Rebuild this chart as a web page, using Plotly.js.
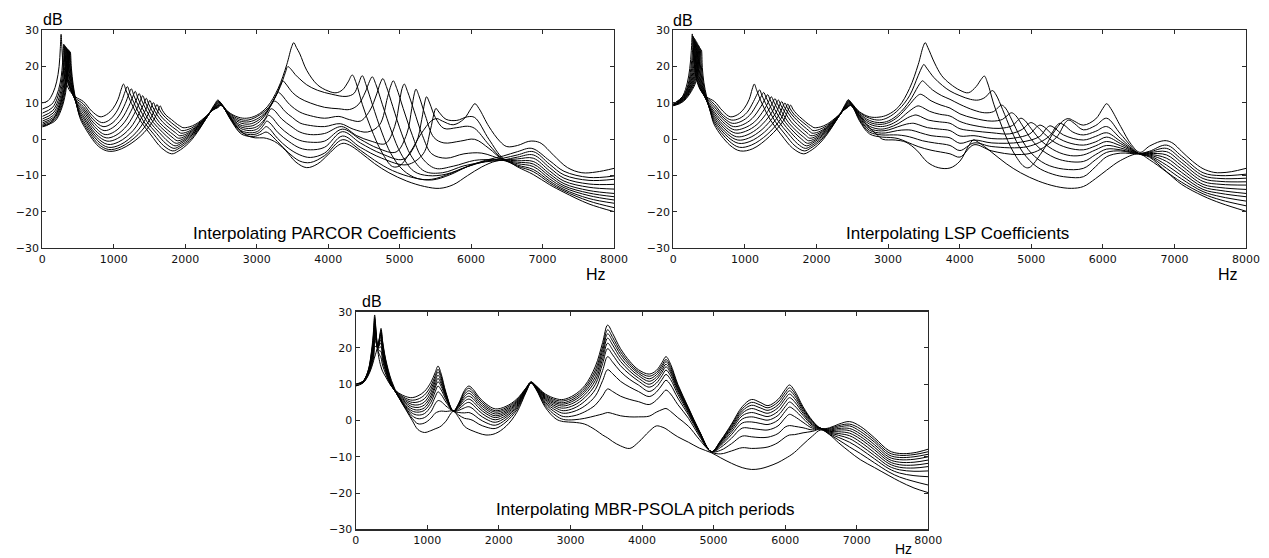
<!DOCTYPE html>
<html><head><meta charset="utf-8">
<script src="https://cdn.plot.ly/plotly-3.0.1.min.js"></script>
<style>html,body{margin:0;padding:0;background:#fff}#chart{width:1269px;height:558px}</style>
</head><body><div id="chart"></div>
<script>
// ---- axis ticks / labels ----
const xTickVals = [0,1000,2000,3000,4000,5000,6000,7000,8000];
const yTickVals = [-30,-20,-10,0,10,20,30];
const yTickText = ['\u221230','\u221220','\u221210','0','10','20','30'];
const panelTitles = ['Interpolating PARCOR Coefficients','Interpolating LSP Coefficients','Interpolating MBR-PSOLA pitch periods'];
const yUnit = 'dB';
const xUnit = 'Hz';

// ---- panel 1: PARCOR interpolation, 11 spectra, [Hz, dB] ----
const parcorCurves = [
[[0,10],[80,10.6],[150,12.8],[200,15.8],[235,20],[252,25],[263,28.9],[275,25],[295,19.8],[330,15.8],[390,13.2],[470,11.6],[575,10.4],[690,7.8],[808,6.2],[900,6.8],[990,8.5],[1060,11],[1105,13.8],[1135,15.2],[1175,13.3],[1250,9.8],[1370,5.2],[1520,1.2],[1670,-2.4],[1810,-4.0],[1900,-3.3],[2050,-1],[2200,2.8],[2330,7.0],[2420,9.9],[2455,10.8],[2500,10],[2600,7.6],[2740,6.1],[2860,5.8],[3000,6.6],[3150,9],[3300,14],[3420,20.5],[3490,25.5],[3519,26.6],[3555,25.3],[3604,23.5],[3700,19],[3850,15],[4000,13.3],[4110,12.8],[4200,13.6],[4280,15.8],[4337,17.7],[4390,15.6],[4480,9.5],[4600,3],[4750,-3.5],[4900,-7.5],[5000,-7.3],[5150,-3.5],[5300,1.5],[5440,5],[5520,5.7],[5600,5],[5750,4],[5900,5.6],[6000,8.5],[6053,9.8],[6110,8.5],[6250,3.5],[6400,-0.5],[6500,-2.0],[6650,-1.7],[6800,-0.6],[6880,-0.5],[6980,-1.1],[7150,-4.3],[7350,-7.8],[7550,-9.2],[7750,-9.0],[8000,-8.0]],
[[0,8.3],[130,9.6],[200,12],[250,15.5],[275,19],[290,23],[300,26.2],[315,21.5],[340,17],[390,13.8],[460,11.4],[575,9.7],[700,6.5],[830,4.6],[930,5.2],[1030,7.3],[1110,10.5],[1160,13.2],[1190,14.5],[1228,12.6],[1300,9.3],[1415,5],[1560,1.4],[1700,-1.8],[1826,-3.2],[1920,-2.4],[2060,-0.3],[2210,3.3],[2340,7.2],[2425,9.8],[2460,10.6],[2505,9.7],[2610,7.3],[2750,5.6],[2880,5.3],[3050,6.8],[3200,9.6],[3330,14.5],[3400,18.3],[3435,20.0],[3480,19.3],[3540,17.8],[3604,16.6],[3700,15],[3850,13.5],[4050,12.4],[4250,11.8],[4360,12.6],[4420,15],[4477,17.5],[4530,15],[4620,9.5],[4750,2],[4880,-4],[5050,-8.5],[5250,-10.8],[5450,-11],[5700,-9.5],[5950,-7.5],[6200,-5.8],[6450,-4.6],[6650,-3.4],[6850,-2.5],[7100,-5.9],[7300,-8.8],[7650,-10.5],[8000,-10.1]],
[[0,7.2],[140,8.7],[210,11.3],[262,15],[288,19],[303,23],[312,25.9],[327,21.3],[352,16.7],[400,13.4],[470,10.8],[575,9.0],[710,5.5],[850,3.5],[960,4.2],[1070,6.4],[1160,9.8],[1215,12.6],[1245,13.9],[1282,12],[1352,8.9],[1462,4.9],[1600,1.6],[1730,-1.2],[1842,-2.5],[1935,-1.7],[2070,0.3],[2220,3.7],[2345,7.3],[2430,9.7],[2465,10.5],[2510,9.6],[2615,7],[2755,5.1],[2890,4.8],[3030,5.9],[3170,8.5],[3280,12.5],[3340,15.3],[3365,16.1],[3410,15.2],[3500,12.9],[3604,11.3],[3750,10],[3950,8.8],[4150,8.4],[4300,8.2],[4420,9.5],[4520,13],[4580,16],[4617,17.2],[4670,15],[4760,9.5],[4890,2],[5020,-4],[5200,-8.8],[5400,-10],[5650,-9.6],[5950,-7.5],[6200,-6.1],[6450,-5.2],[6650,-4.3],[6870,-3.4],[7100,-6.9],[7300,-9.8],[7650,-11.3],[8000,-11.0]],
[[0,6.3],[145,7.9],[220,10.6],[272,14.5],[299,19],[315,23],[324,25.6],[339,21],[364,16.4],[410,13.1],[480,10.3],[575,8.4],[720,4.5],[865,2.4],[985,3.2],[1110,5.6],[1210,9.1],[1270,11.9],[1300,13.2],[1336,11.4],[1404,8.4],[1508,4.7],[1640,1.8],[1760,-0.6],[1858,-1.8],[1950,-1],[2080,0.9],[2230,4.1],[2350,7.4],[2435,9.6],[2470,10.3],[2515,9.4],[2620,6.7],[2760,4.6],[2900,4.2],[3020,5.2],[3140,7.5],[3240,11],[3285,12.6],[3300,13],[3350,12.2],[3460,9.6],[3604,7.5],[3750,6.5],[3950,5.8],[4150,6.3],[4300,5.4],[4450,5],[4580,7.8],[4680,12.5],[4730,15.5],[4765,16.7],[4815,14.5],[4905,9],[5030,1.5],[5160,-4.5],[5350,-8.8],[5600,-9.2],[5900,-7.3],[6200,-6.2],[6450,-5.7],[6650,-4.9],[6870,-4.3],[7100,-7.8],[7300,-10.7],[7650,-12.3],[8000,-12.4]],
[[0,5.6],[150,7.2],[228,10],[283,14.2],[310,19],[327,23],[336,25.3],[351,20.8],[376,16.2],[420,12.8],[490,9.7],[575,7.8],[730,3.5],[880,1.3],[1010,2.1],[1150,4.7],[1260,8.5],[1325,11.3],[1355,12.6],[1390,10.8],[1456,8],[1555,4.6],[1680,2],[1790,0],[1874,-1.1],[1965,-0.4],[2090,1.4],[2240,4.5],[2355,7.5],[2440,9.5],[2475,10.2],[2520,9.3],[2625,6.4],[2765,4],[2910,3.6],[3010,4.4],[3110,6.4],[3200,9.3],[3245,10.5],[3290,10.1],[3400,7.6],[3500,6],[3604,4.5],[3750,3.8],[3950,3.5],[4170,4.3],[4350,2.8],[4550,2],[4720,4],[4830,11.5],[4880,14.9],[4911,16.1],[4960,14],[5050,8.5],[5180,1],[5310,-5],[5500,-8],[5750,-7.4],[6050,-5.8],[6300,-5.6],[6450,-5.7],[6650,-5.4],[6870,-5.2],[7100,-8.7],[7300,-11.5],[7650,-13.2],[8000,-13.7]],
[[0,5.0],[155,6.6],[236,9.5],[293,14],[321,19],[338,23],[347,25.0],[362,20.6],[387,16],[430,12.5],[500,9.1],[575,7.1],[740,2.5],[893,0.4],[1030,1.1],[1190,3.9],[1310,7.9],[1375,10.7],[1405,12],[1440,10.3],[1504,7.6],[1598,4.6],[1715,2.3],[1815,0.6],[1890,-0.4],[1980,0.2],[2100,1.9],[2250,4.9],[2360,7.6],[2445,9.3],[2480,10],[2525,9.1],[2630,6.1],[2770,3.5],[2920,3.0],[3020,3.7],[3110,5.5],[3170,7.6],[3200,8.4],[3245,8],[3350,5.6],[3480,3.6],[3604,2.0],[3750,1.3],[3950,1.6],[4190,3.5],[4400,1],[4600,-0.5],[4800,-1.2],[4930,3.5],[5000,10.5],[5035,14],[5065,15.2],[5110,13.2],[5200,8],[5320,1],[5450,-4],[5650,-5.2],[5900,-4],[6150,-3.8],[6450,-5.6],[6650,-5.9],[6870,-6.1],[7100,-9.5],[7300,-12.2],[7650,-14.1],[8000,-14.9]],
[[0,4.5],[160,6.1],[243,9],[302,13.6],[331,18.8],[348,22.8],[357,24.8],[372,20.4],[397,15.8],[440,12.1],[505,8.5],[575,6.4],[750,1.5],[905,-0.5],[1050,0.2],[1230,3.1],[1360,7.3],[1425,10],[1455,11.3],[1489,9.7],[1550,7.3],[1640,4.6],[1750,2.6],[1840,1.2],[1905,0.3],[1995,0.8],[2110,2.4],[2260,5.3],[2365,7.7],[2450,9.2],[2485,9.9],[2530,9],[2635,5.8],[2775,3],[2930,2.4],[3020,3],[3100,4.8],[3140,6.1],[3165,6.6],[3210,6.1],[3320,3.5],[3460,1.2],[3604,-0.3],[3750,-0.8],[3950,-0.5],[4200,2.8],[4450,0],[4700,-2.5],[4950,-3.5],[5100,1.5],[5170,8.5],[5205,12.5],[5229,13.8],[5270,12],[5360,6.5],[5480,0.5],[5620,-1],[5850,-0.5],[6050,0],[6250,-2.5],[6450,-5.6],[6650,-6.3],[6870,-6.8],[7100,-10.2],[7300,-12.8],[7650,-14.8],[8000,-15.8]],
[[0,4.1],[165,5.7],[250,8.6],[310,13.3],[340,18.6],[357,22.6],[366,24.6],[381,20.2],[406,15.6],[448,11.7],[510,7.9],[575,5.8],[760,0.6],[915,-1.4],[1070,-0.7],[1270,2.4],[1410,6.7],[1475,9.4],[1505,10.7],[1538,9.2],[1597,7],[1682,4.8],[1785,3],[1865,1.8],[1920,1.0],[2010,1.4],[2120,2.8],[2270,5.6],[2370,7.8],[2455,9.0],[2490,9.7],[2535,8.8],[2640,5.5],[2780,2.4],[2940,1.8],[3030,2.4],[3100,4],[3140,5],[3185,4.5],[3300,1.8],[3450,-0.6],[3604,-2.4],[3750,-2.9],[3950,-2.2],[4200,2.1],[4450,-1],[4750,-4],[5050,-5.5],[5230,-1],[5310,5.5],[5350,10],[5377,11.7],[5420,10],[5500,6],[5620,3],[5800,3.2],[5950,3.6],[6050,3],[6250,-1.5],[6450,-5.5],[6650,-6.7],[6870,-7.5],[7100,-10.9],[7300,-13.3],[7650,-15.5],[8000,-16.7]],
[[0,3.8],[170,5.3],[256,8.3],[318,13],[349,18.4],[366,22.4],[375,24.4],[390,20],[415,15.4],[456,11.3],[515,7.3],[575,5.1],[770,-0.3],[922,-2.2],[1090,-1.5],[1310,1.8],[1460,6.1],[1525,8.8],[1555,10.1],[1587,8.7],[1643,6.8],[1725,5],[1820,3.4],[1890,2.4],[1935,1.7],[2025,2],[2130,3.2],[2280,5.9],[2375,7.9],[2460,8.9],[2495,9.6],[2540,8.7],[2645,5.2],[2785,1.9],[2950,1.3],[3040,1.9],[3100,3],[3130,3.5],[3175,3],[3290,0.3],[3440,-2.4],[3604,-4.3],[3750,-5],[3950,-3.8],[4200,0.9],[4450,-2.2],[4750,-5.2],[5100,-7],[5330,-4],[5430,2.5],[5480,7],[5508,8.5],[5550,7.5],[5650,5.5],[5800,5.2],[5950,6.2],[6050,6],[6250,0],[6450,-5.3],[6650,-7.1],[6870,-8.3],[7100,-11.5],[7300,-13.8],[7650,-16.3],[8000,-17.6]],
[[0,3.6],[175,5],[262,8],[326,12.8],[358,18.2],[375,22.2],[384,24.2],[399,19.8],[424,15.2],[464,10.9],[520,6.6],[575,4.5],[780,-1.2],[928,-2.8],[1100,-2.1],[1340,1.3],[1510,5.6],[1575,8.3],[1605,9.6],[1636,8.3],[1690,6.7],[1768,5.2],[1855,3.8],[1915,2.9],[1950,2.4],[2040,2.7],[2140,3.7],[2290,6.2],[2380,8.0],[2465,8.8],[2498,9.4],[2545,8.5],[2650,4.9],[2790,1.4],[2960,0.8],[3060,1.4],[3130,2],[3175,1.6],[3290,-0.6],[3440,-3.6],[3604,-6.0],[3750,-6.4],[3950,-4.5],[4205,-0.1],[4450,-3],[4650,-5.8],[4900,-8.6],[5200,-10.6],[5450,-11.2],[5700,-9.8],[5950,-7.5],[6200,-6],[6450,-5.8],[6650,-7.4],[6870,-8.9],[7100,-12.0],[7300,-14.2],[7650,-17.0],[8000,-18.8]],
[[0,3.4],[100,4.2],[180,6.3],[250,9.5],[310,14],[350,18.5],[375,22],[392,24.0],[407,19.6],[432,15],[472,10.5],[525,6],[575,3.9],[790,-2.0],[935,-3.3],[1110,-2.6],[1370,0.8],[1555,5.2],[1620,7.9],[1650,9.2],[1680,8],[1732,6.6],[1810,5.4],[1890,4.1],[1940,3.5],[1967,3.2],[2055,3.4],[2150,4.2],[2300,6.5],[2420,8.9],[2500,9.3],[2560,8.3],[2700,4],[2850,1.2],[2980,0.4],[3100,0.4],[3250,-0.6],[3400,-3],[3550,-6.3],[3700,-7.8],[3850,-6.8],[4000,-4.2],[4130,-1.8],[4210,-1.1],[4300,-1.6],[4450,-3.6],[4650,-6.7],[4850,-9.2],[5100,-11.5],[5350,-13],[5560,-13.5],[5750,-12.5],[5950,-10],[6150,-7.6],[6350,-6],[6500,-5.9],[6650,-7.6],[6870,-9.7],[7100,-12.5],[7300,-14.6],[7650,-17.8],[8000,-19.9]]
];

// ---- panel 2: LSP interpolation, 11 spectra, [Hz, dB] ----
const lspCurves = [
[[0,9.8],[70,10.3],[140,12.2],[195,15.5],[230,19.5],[252,24.5],[265,29.0],[277,25],[297,19.8],[332,15.8],[390,13.2],[470,11.6],[575,10.4],[690,7.8],[795,6.2],[900,6.8],[990,8.5],[1060,11],[1102,13.8],[1131,15.2],[1165,13.5],[1240,9.8],[1360,5.2],[1510,1.2],[1665,-2.4],[1816,-4.0],[1905,-3.3],[2050,-1],[2200,2.8],[2330,7.0],[2410,9.9],[2445,10.9],[2490,10],[2600,7.6],[2740,6.2],[2873,6.1],[3000,6.8],[3150,9],[3300,14],[3420,20.5],[3490,25.5],[3519,26.6],[3555,25.3],[3650,21],[3750,17.5],[3865,15.3],[4004,13.5],[4121,12.8],[4230,14.5],[4300,16.5],[4345,17.4],[4390,15.5],[4480,9.5],[4600,3],[4750,-3.5],[4900,-7.5],[4970,-7.8],[5150,-3.5],[5300,1.5],[5440,5],[5520,5.7],[5600,5],[5728,3.9],[5900,5.6],[6000,8.5],[6053,9.8],[6110,8.5],[6250,3.5],[6400,-1.5],[6520,-3.6],[6650,-1.9],[6800,-0.6],[6890,-0.4],[6980,-1.1],[7100,-3.3],[7250,-6],[7400,-8.1],[7550,-9.1],[7650,-9.2],[7800,-8.9],[8000,-8.0]],
[[0,9.7],[140,12.0],[205,15],[245,19.5],[268,24],[280,28.3],[293,23.5],[315,18.5],[355,14.8],[420,12.4],[575,9.6],[700,6.6],[810,5.3],[920,5.7],[1030,7.4],[1120,10.4],[1175,12.6],[1205,13.6],[1240,12],[1310,9],[1420,5],[1560,1.4],[1700,-1.8],[1830,-3.2],[1920,-2.4],[2060,-0.3],[2210,3.3],[2340,7.2],[2415,9.8],[2448,10.7],[2493,9.8],[2600,7.4],[2740,5.8],[2878,5.3],[3000,6],[3150,8.2],[3300,12],[3420,17.5],[3480,20.1],[3500,20.6],[3540,19.6],[3640,17],[3760,14.8],[3865,13.3],[4004,12],[4150,11],[4260,10.8],[4360,11.6],[4420,12.9],[4461,13.4],[4510,12.2],[4600,8.2],[4720,2.5],[4880,-3.5],[5080,-7.6],[5300,-9.6],[5500,-10.4],[5728,-10.3],[5900,-7.5],[6053,-4.8],[6250,-3.8],[6500,-4],[6650,-3.3],[6890,-1.6],[7100,-4.6],[7400,-9.2],[7650,-10.0],[8000,-9.6]],
[[0,9.6],[140,11.8],[215,15],[257,19.5],[280,24],[292,27.9],[305,23.1],[327,18.2],[367,14.5],[432,12],[575,8.9],[710,5.8],[825,4.4],[945,4.9],[1065,6.6],[1170,9.7],[1233,12],[1262,12.9],[1297,11.5],[1365,8.6],[1470,4.9],[1605,1.6],[1735,-1.2],[1845,-2.5],[1935,-1.7],[2070,0.3],[2220,3.7],[2345,7.3],[2418,9.7],[2451,10.5],[2496,9.6],[2600,7.1],[2740,5.2],[2883,4.6],[3010,5.1],[3150,7],[3300,10.5],[3420,14.6],[3462,15.8],[3480,16.1],[3520,15.5],[3620,13.6],[3750,12],[3865,11],[4004,9.6],[4200,8],[4350,7.3],[4470,7.6],[4540,8.8],[4587,9.4],[4640,8.6],[4730,5.3],[4850,0.5],[5000,-3.8],[5200,-6.8],[5450,-8.2],[5728,-8],[5900,-5.6],[6053,-3.6],[6250,-3.2],[6500,-4],[6650,-3.5],[6890,-2.5],[7100,-5.5],[7400,-10.0],[7650,-10.8],[8000,-10.7]],
[[0,9.6],[140,11.6],[225,15],[269,19.5],[292,24],[304,27.5],[317,22.7],[339,17.9],[379,14.2],[444,11.5],[575,8.2],[720,5],[840,3.5],[970,4.0],[1100,5.7],[1220,8.9],[1288,11.3],[1318,12.3],[1352,10.9],[1418,8.2],[1520,4.8],[1645,1.8],[1765,-0.6],[1860,-1.8],[1950,-1],[2080,0.9],[2230,4.1],[2350,7.4],[2421,9.6],[2454,10.4],[2499,9.5],[2600,6.9],[2740,4.7],[2888,4.1],[3010,4.6],[3140,6.2],[3280,9.1],[3400,11.8],[3450,12.4],[3500,12],[3600,10.6],[3740,9.4],[3865,8.6],[4004,7.0],[4200,5.8],[4450,5],[4600,5.5],[4680,6.8],[4726,7.3],[4780,6.6],[4870,4],[5000,0],[5150,-3],[5400,-5.6],[5728,-6.1],[5900,-4.2],[6053,-2.7],[6250,-2.9],[6500,-3.9],[6650,-3.7],[6890,-3.4],[7100,-6.4],[7400,-10.8],[7650,-11.6],[8000,-11.7]],
[[0,9.5],[140,11.4],[235,15],[281,19.5],[304,24],[316,27.1],[329,22.3],[351,17.6],[391,13.9],[456,11],[575,7.5],[730,4.1],[855,2.6],[990,3.1],[1135,4.8],[1270,8.2],[1340,10.7],[1370,11.7],[1403,10.4],[1467,7.9],[1565,4.7],[1685,2],[1795,0],[1875,-1.1],[1965,-0.4],[2090,1.4],[2240,4.5],[2355,7.5],[2424,9.5],[2457,10.2],[2502,9.3],[2600,6.6],[2740,4.2],[2893,3.5],[3010,3.9],[3140,5.2],[3280,7.5],[3380,8.9],[3420,9.2],[3480,8.8],[3580,7.7],[3720,6.9],[3865,6.4],[4004,4.9],[4200,3.8],[4550,3],[4740,3.8],[4810,5.2],[4857,5.8],[4910,5.2],[5000,2.9],[5150,-0.6],[5350,-3.3],[5550,-4.5],[5728,-4.3],[5900,-2.9],[6053,-1.7],[6250,-2.4],[6500,-3.9],[6650,-3.9],[6890,-4.3],[7100,-7.3],[7400,-11.6],[7650,-12.4],[8000,-12.6]],
[[0,9.5],[140,11.3],[245,15],[293,19.5],[316,24],[328,26.7],[341,21.9],[363,17.3],[403,13.6],[468,10.5],[575,6.9],[740,3.2],[870,1.7],[1010,2.2],[1170,4.1],[1320,7.7],[1390,10.2],[1420,11.2],[1452,9.9],[1514,7.6],[1605,4.7],[1720,2.3],[1820,0.6],[1890,-0.4],[1980,0.2],[2100,1.9],[2250,4.9],[2360,7.6],[2427,9.3],[2460,10],[2505,9.1],[2600,6.3],[2740,3.6],[2898,2.8],[3010,3.2],[3140,4.3],[3270,5.9],[3360,6.6],[3390,6.7],[3450,6.3],[3560,5.3],[3720,4.8],[3865,4.4],[4004,2.9],[4200,2.3],[4450,1.8],[4700,1.5],[4880,2.8],[4950,4.1],[4996,4.6],[5050,4.1],[5150,2.2],[5300,-0.5],[5500,-2.3],[5728,-2.9],[5900,-1.8],[6053,-0.6],[6250,-1.8],[6500,-3.9],[6650,-4.1],[6890,-5.2],[7100,-8.2],[7400,-12.4],[7650,-13.3],[8000,-13.8]],
[[0,9.4],[140,11.1],[255,15],[305,19.5],[328,24],[340,26.3],[353,21.5],[375,17],[415,13.3],[480,10],[575,6.3],[750,2.3],[885,0.7],[1030,1.2],[1205,3.4],[1370,7.2],[1438,9.8],[1468,10.8],[1500,9.5],[1560,7.4],[1648,4.8],[1755,2.7],[1845,1.2],[1905,0.3],[1995,0.8],[2110,2.4],[2260,5.3],[2365,7.7],[2430,9.2],[2463,9.9],[2508,9],[2600,6],[2740,3],[2903,2.3],[3010,2.6],[3130,3.4],[3260,4.2],[3330,4.4],[3360,4.4],[3430,4],[3550,3.2],[3720,2.8],[3865,2.4],[4004,0.9],[4200,1],[4450,0.2],[4750,0.3],[4980,1.5],[5075,3.4],[5122,3.9],[5180,3.4],[5300,1.3],[5500,-0.8],[5728,-1.6],[5900,-0.7],[6053,0.6],[6250,-1.2],[6500,-3.9],[6650,-4.3],[6890,-6.1],[7100,-9.1],[7400,-13.1],[7650,-14.1],[8000,-14.9]],
[[0,9.4],[140,10.9],[265,15],[317,19.5],[340,24],[352,25.9],[365,21.1],[387,16.7],[427,13],[490,9.4],[575,5.7],[760,1.4],[900,-0.2],[1050,0.3],[1240,2.7],[1415,6.7],[1485,9.4],[1515,10.4],[1546,9.1],[1605,7.2],[1690,5],[1790,3.1],[1868,1.8],[1920,1.0],[2010,1.4],[2120,2.8],[2270,5.6],[2370,7.8],[2433,9.0],[2466,9.7],[2511,8.8],[2600,5.7],[2740,2.5],[2908,1.7],[3010,1.9],[3130,2.4],[3250,2.6],[3330,2.5],[3450,1.8],[3600,1],[3750,0.7],[3865,0.4],[4004,-1.1],[4200,-0.2],[4450,-1],[4850,-0.8],[5120,0.8],[5215,3.1],[5262,3.7],[5320,3.2],[5450,1.2],[5728,-0.2],[5900,0.8],[6053,1.8],[6250,-0.6],[6500,-3.9],[6650,-4.5],[6890,-7.1],[7100,-10.0],[7400,-13.8],[7650,-14.9],[8000,-15.8]],
[[0,9.3],[140,10.8],[275,15],[329,19.5],[352,24],[364,25.5],[377,20.7],[399,16.4],[439,12.6],[500,8.8],[575,5.1],[770,0.5],[912,-1.1],[1070,-0.6],[1275,2],[1460,6.2],[1530,9],[1560,10],[1590,8.8],[1647,7],[1730,5.2],[1825,3.5],[1893,2.4],[1935,1.7],[2025,2],[2130,3.2],[2280,5.9],[2375,7.9],[2436,8.9],[2469,9.6],[2514,8.7],[2600,5.4],[2740,2],[2913,1.2],[3020,1.2],[3130,1.2],[3250,0.9],[3350,0.4],[3480,-0.4],[3650,-1],[3865,-1.7],[4004,-3.1],[4200,-1],[4450,-2],[4950,-2],[5250,0.8],[5355,3.8],[5401,4.4],[5460,3.9],[5580,2],[5728,1.2],[5900,2.2],[6053,3.5],[6250,0.2],[6500,-3.9],[6650,-4.7],[6890,-8.0],[7100,-10.9],[7400,-14.4],[7650,-15.8],[8000,-17.0]],
[[0,9.3],[140,10.6],[287,15],[342,19.5],[366,24],[378,25.0],[391,20.2],[413,16],[452,12.2],[510,8.1],[575,4.5],[780,-0.5],[924,-2.2],[1090,-1.6],[1310,1.3],[1500,5.6],[1570,8.6],[1600,9.7],[1630,8.5],[1685,6.9],[1765,5.4],[1858,3.9],[1918,2.9],[1950,2.4],[2040,2.7],[2140,3.7],[2290,6.2],[2380,8.0],[2440,8.8],[2472,9.4],[2517,8.5],[2600,5.1],[2740,1.5],[2918,0.6],[3030,0.5],[3140,0.2],[3270,-0.8],[3420,-2],[3600,-3],[3865,-4.0],[4004,-4.9],[4200,-1.5],[4450,-3.2],[4800,-4.2],[5050,-3.5],[5350,0.5],[5480,4.7],[5527,5.3],[5600,4.4],[5728,2.6],[5900,3.8],[6053,5.8],[6250,1.4],[6500,-3.9],[6650,-4.9],[6890,-8.9],[7100,-11.8],[7400,-15.0],[7650,-16.7],[8000,-18.3]],
[[0,9.2],[140,10.4],[300,15],[356,19.5],[380,24],[392,24.6],[405,19.8],[427,15.6],[465,11.8],[520,7.5],[575,3.9],[790,-1.6],[935,-3.2],[1110,-2.6],[1345,0.8],[1540,5.2],[1610,8.3],[1640,9.4],[1670,8.3],[1722,7],[1800,5.6],[1885,4.2],[1940,3.5],[1965,3.2],[2055,3.4],[2150,4.2],[2300,6.5],[2400,8.4],[2475,9.3],[2530,8.3],[2700,4],[2850,1.2],[2925,0],[3100,-0.2],[3250,-0.8],[3400,-3],[3550,-6.3],[3700,-7.8],[3865,-7.9],[4004,-6],[4120,-2],[4190,-0.2],[4260,-0.8],[4450,-3.6],[4650,-6.7],[4850,-9.2],[5100,-11.5],[5350,-13],[5560,-13.5],[5728,-13],[5900,-10.8],[6053,-8.5],[6250,-5.8],[6500,-4],[6650,-5.6],[6890,-9.0],[7100,-12.4],[7400,-15.6],[7650,-17.6],[8000,-19.8]]
];

// ---- panel 3: MBR-PSOLA, fixed frequencies; each row = dB of the 11 spectra at that frequency ----
const mbrHz = [0,100,170,220,250,265,285,310,335,354,375,420,500,600,700,790,870,960,1050,1110,1150,1195,1260,1364,1440,1520,1580,1640,1720,1820,1950,2100,2250,2380,2450,2520,2650,2800,2900,3050,3200,3350,3450,3520,3590,3700,3830,3950,4100,4200,4280,4335,4400,4500,4650,4800,4970,5100,5250,5400,5530,5650,5760,5900,6000,6060,6130,6250,6380,6500,6620,6750,6900,7050,7250,7450,7600,7800,8000];
const mbrLevels = [
[10.0,10.0,9.9,9.9,9.8,9.8,9.7,9.7,9.6,9.6,9.5],
[10.8,10.8,10.7,10.7,10.6,10.6,10.5,10.5,10.4,10.4,10.3],
[13.5,13.4,13.3,13.2,13.1,13.0,12.9,12.8,12.6,12.4,12.2],
[19.0,18.5,18.0,17.6,17.2,16.8,16.4,16.0,15.5,15.0,14.5],
[25.0,23.8,22.8,21.8,21.0,20.2,19.5,18.8,18.0,17.2,16.5],
[29.1,28.3,27.5,26.7,25.9,25.0,24.1,23.1,22.0,20.5,17.5],
[24.5,24.2,23.8,23.4,23.0,22.6,22.2,21.8,21.3,20.3,18.8],
[19.0,19.4,19.7,19.9,20.0,20.1,20.1,20.1,20.1,20.3,20.8],
[16.2,18.0,19.2,20.1,20.9,21.5,22.0,22.5,22.9,23.0,23.2],
[14.8,17.3,19.0,20.3,21.4,22.3,23.0,23.7,24.3,24.9,25.4],
[13.6,15.3,16.6,17.6,18.5,19.2,19.8,20.4,21.0,21.6,22.0],
[12.0,12.8,13.4,13.9,14.4,14.8,15.2,15.6,16.0,16.4,16.8],
[9.4,9.4,9.5,9.6,9.7,9.8,9.9,10.1,10.3,10.6,11.0],
[7.6,7.4,7.2,7.0,6.8,6.7,6.6,6.5,6.4,6.4,6.5],
[6.6,6.1,5.7,5.3,4.9,4.5,4.1,3.8,3.5,3.2,3.0],
[6.3,5.6,5.0,4.4,3.8,3.2,2.6,2.0,1.3,0.6,0.0],
[6.8,5.9,5.1,4.3,3.6,2.9,2.3,1.5,0.5,-0.9,-2.5],
[8.0,7.0,6.0,5.1,4.3,3.5,2.8,1.9,0.8,-0.7,-3.3],
[10.5,9.5,8.6,7.7,6.8,6.0,5.0,3.9,2.4,0.6,-2.8],
[13.2,12.3,11.5,10.7,9.8,9.0,7.9,6.5,4.6,2.0,-2.3],
[15.0,14.1,13.4,12.5,11.6,10.7,9.5,7.9,5.5,2.4,-2.0],
[12.8,12.1,11.5,10.8,10.1,9.4,8.4,7.1,5.2,2.6,-1.5],
[7.8,7.5,7.2,6.9,6.6,6.3,5.8,5.1,4.0,2.5,-0.2],
[2.6,2.6,2.6,2.6,2.6,2.6,2.6,2.6,2.6,2.6,2.5],
[4.8,4.6,4.4,4.2,3.9,3.6,3.2,2.8,2.2,1.5,0.8],
[8.3,7.8,7.2,6.6,6.0,5.3,4.5,3.5,2.1,0.6,-1.6],
[9.5,8.9,8.2,7.5,6.7,5.9,5.0,3.8,2.2,0.4,-2.4],
[8.6,8.0,7.4,6.7,6.0,5.2,4.3,3.2,1.7,0.0,-2.9],
[6.5,6.0,5.4,4.8,4.2,3.5,2.7,1.7,0.5,-1.0,-3.5],
[4.6,4.1,3.6,3.1,2.5,1.9,1.2,0.4,-0.6,-1.8,-4.0],
[3.2,2.7,2.3,1.8,1.3,0.8,0.2,-0.5,-1.3,-2.2,-3.6],
[3.9,3.5,3.1,2.7,2.3,1.9,1.4,0.9,0.3,-0.4,-1.6],
[5.9,5.6,5.3,5.0,4.7,4.4,4.1,3.8,3.4,2.9,2.2],
[9.0,8.9,8.8,8.7,8.6,8.5,8.4,8.3,8.2,8.0,7.8],
[10.6,10.6,10.6,10.6,10.5,10.5,10.5,10.5,10.4,10.4,10.3],
[9.6,9.5,9.4,9.3,9.2,9.1,9.0,8.9,8.8,8.7,8.6],
[7.3,7.0,6.7,6.4,6.1,5.8,5.4,5.0,4.6,4.1,3.6],
[6.0,5.6,5.2,4.8,4.4,3.9,3.4,2.8,2.1,1.3,0.4],
[5.8,5.4,4.9,4.5,4.0,3.4,2.7,2.0,1.1,0.3,-0.3],
[7.0,6.5,6.0,5.5,4.9,4.2,3.4,2.5,1.3,0.2,-0.5],
[9.6,9.0,8.4,7.8,7.1,6.3,5.3,4.0,2.4,0.6,-1.0],
[15.0,14.0,13.1,12.1,11.1,10.0,8.6,6.8,4.3,1.3,-2.6],
[21.5,20.3,19.3,18.2,17.0,15.7,13.8,11.0,6.8,1.8,-4.0],
[26.3,25.0,23.9,22.7,21.3,19.8,17.6,14.0,8.7,2.2,-4.8],
[24.0,22.9,21.9,20.8,19.5,18.1,16.1,12.9,8.0,1.9,-5.8],
[19.8,19.0,18.2,17.3,16.3,15.1,13.5,10.8,6.7,1.3,-7.0],
[16.3,15.7,15.1,14.4,13.6,12.7,11.3,9.2,5.8,1.0,-7.7],
[14.0,13.5,13.0,12.4,11.7,10.9,9.8,8.0,5.2,1.0,-6.0],
[12.8,12.2,11.5,10.8,10.0,9.2,8.0,6.6,4.4,1.2,-3.0],
[13.8,13.2,12.6,11.9,11.2,10.3,9.2,7.8,5.6,2.3,-1.5],
[16.0,15.3,14.7,14.0,13.3,12.4,11.3,9.8,7.3,3.0,-1.8],
[17.6,16.8,16.2,15.5,14.8,13.9,12.7,11.1,8.4,3.3,-2.3],
[15.5,14.9,14.3,13.7,13.1,12.3,11.3,9.8,7.3,2.5,-3.2],
[10.0,9.6,9.2,8.8,8.4,7.9,7.2,6.2,4.4,0.8,-4.5],
[3.5,3.3,3.1,2.9,2.7,2.4,2.0,1.5,0.6,-1.6,-6.0],
[-2.8,-2.9,-3.0,-3.1,-3.2,-3.3,-3.5,-3.8,-4.3,-5.2,-7.6],
[-8.6,-8.6,-8.6,-8.6,-8.6,-8.6,-8.6,-8.6,-8.6,-8.7,-8.9],
[-5.5,-5.6,-5.8,-6.0,-6.2,-6.5,-6.9,-7.4,-8.2,-9.2,-10.3],
[-1.0,-1.3,-1.7,-2.1,-2.6,-3.2,-3.9,-4.9,-6.4,-8.4,-11.8],
[3.8,3.2,2.6,2.0,1.3,0.4,-0.7,-2.1,-4.3,-7.5,-13.0],
[5.8,5.0,4.2,3.3,2.2,1.0,-0.4,-2.2,-4.5,-7.7,-13.5],
[5.0,4.3,3.5,2.6,1.6,0.5,-0.8,-2.5,-4.7,-7.6,-13.3],
[4.1,3.5,2.8,2.0,1.1,0.1,-1.1,-2.6,-4.6,-7.3,-12.7],
[5.8,5.1,4.3,3.5,2.5,1.4,0.1,-1.5,-3.6,-6.1,-11.6],
[8.5,7.7,6.9,6.0,5.0,3.8,2.5,0.7,-1.8,-4.6,-10.5],
[9.8,9.0,8.2,7.3,6.3,5.1,3.7,1.7,-1.4,-4.0,-9.8],
[8.3,7.6,6.9,6.1,5.2,4.1,2.9,1.1,-1.6,-3.9,-8.8],
[3.8,3.4,3.0,2.5,2.0,1.4,0.6,-0.5,-2.0,-3.4,-6.6],
[0.0,-0.2,-0.4,-0.7,-1.0,-1.3,-1.7,-2.1,-2.6,-3.0,-4.3],
[-2.2,-2.2,-2.2,-2.2,-2.2,-2.2,-2.2,-2.2,-2.3,-2.4,-2.6],
[-2.0,-2.2,-2.4,-2.6,-2.8,-3.0,-3.2,-3.4,-3.6,-3.8,-3.9],
[-1.0,-1.4,-1.8,-2.2,-2.6,-3.1,-3.6,-4.1,-4.7,-5.4,-6.2],
[-0.3,-1.0,-1.5,-2.2,-2.8,-3.5,-4.2,-5.0,-6.0,-7.3,-8.6],
[-1.6,-2.3,-3.0,-3.7,-4.4,-5.1,-5.9,-6.8,-7.8,-9.1,-10.8],
[-4.8,-5.4,-6.0,-6.7,-7.4,-8.1,-8.9,-9.7,-10.6,-11.7,-13.0],
[-8.3,-8.9,-9.5,-10.1,-10.7,-11.3,-11.9,-12.6,-13.3,-14.2,-15.2],
[-9.1,-9.6,-10.2,-10.8,-11.5,-12.2,-12.9,-13.6,-14.5,-15.6,-16.8],
[-8.9,-9.4,-10.0,-10.7,-11.5,-12.3,-13.1,-14.0,-15.2,-16.8,-18.6],
[-7.9,-8.6,-9.3,-10.0,-10.9,-11.8,-12.7,-13.9,-15.5,-17.8,-19.9]
];

// ---- build traces ----
const LINE = {color:'#000', width:1, shape:'spline', smoothing:1};
const traces = [];
function addPairs(curves, xa, ya){
  curves.forEach(c => traces.push({type:'scatter', mode:'lines', x:c.map(p=>p[0]), y:c.map(p=>p[1]),
    xaxis:xa, yaxis:ya, line:LINE, hoverinfo:'skip', showlegend:false}));
}
addPairs(parcorCurves,'x','y');
addPairs(lspCurves,'x2','y2');
for (let k = 0; k < mbrLevels[0].length; k++) {
  traces.push({type:'scatter', mode:'lines', x:mbrHz, y:mbrLevels.map(r=>r[k]),
    xaxis:'x3', yaxis:'y3', line:LINE, hoverinfo:'skip', showlegend:false});
}

const AX = '#2a2a2a';
function xAxis(dom, anchor){
  return {domain:dom, anchor:anchor, range:[0,8000], tickmode:'array', tickvals:xTickVals,
    ticktext:xTickVals.map(String), ticks:'inside', ticklen:4, tickwidth:1, tickcolor:AX,
    showline:true, linecolor:AX, linewidth:1.2, mirror:'ticks', showgrid:false, zeroline:false,
    tickfont:{family:'DejaVu Sans', size:11, color:'#111'}, fixedrange:true};
}
function yAxis(dom, anchor){
  return {domain:dom, anchor:anchor, range:[-30,30], tickmode:'array', tickvals:yTickVals,
    ticktext:yTickText, ticks:'inside', ticklen:4, tickwidth:1, tickcolor:AX,
    showline:true, linecolor:AX, linewidth:1.2, mirror:'ticks', showgrid:false, zeroline:false,
    tickfont:{family:'DejaVu Sans', size:11, color:'#111'}, fixedrange:true};
}
const W = 1269, H = 558;
const px = v => v / W, py = v => 1 - v / H;
const TXT = {family:'Liberation Sans, Arial, sans-serif', size:17, color:'#000'};
const UNIT = {family:'Liberation Sans, Arial, sans-serif', size:16, color:'#000'};
const UNIT_LOW = {family:'Liberation Sans, Arial, sans-serif', size:14, color:'#000'};
function note(text, x, y, xref, yref, font){
  return {text:text, x:x, y:y, xref:xref, yref:yref, showarrow:false, font:font, xanchor:'center', yanchor:'middle'};
}
const layout = {
  width:W, height:H, margin:{l:0, r:0, t:0, b:0}, paper_bgcolor:'#fff', plot_bgcolor:'#fff', showlegend:false,
  xaxis:xAxis([0.03333,0.48385],'y'), yaxis:yAxis([0.55502,0.94570],'x'),
  xaxis2:xAxis([0.53058,0.98188],'y2'), yaxis2:yAxis([0.55502,0.94570],'x2'),
  xaxis3:xAxis([0.28030,0.73152],'y3'), yaxis3:yAxis([0.05143,0.44140],'x3'),
  annotations:[
    note(panelTitles[0], 3955, -25.8, 'x', 'y', TXT),
    note(panelTitles[1], 3963, -25.8, 'x2', 'y2', TXT),
    note(panelTitles[2], 4047, -24.5, 'x3', 'y3', TXT),
    note(yUnit, px(53), py(19.5), 'paper', 'paper', UNIT),
    note(yUnit, px(683), py(20), 'paper', 'paper', UNIT),
    note(yUnit, px(372), py(301.5), 'paper', 'paper', UNIT),
    note(xUnit, px(596), py(274), 'paper', 'paper', UNIT),
    note(xUnit, px(1227.5), py(274.5), 'paper', 'paper', UNIT),
    note(xUnit, px(903), py(548.5), 'paper', 'paper', UNIT_LOW)
  ]
};
Plotly.newPlot('chart', traces, layout, {displayModeBar:false, staticPlot:true});
</script>
</body></html>
